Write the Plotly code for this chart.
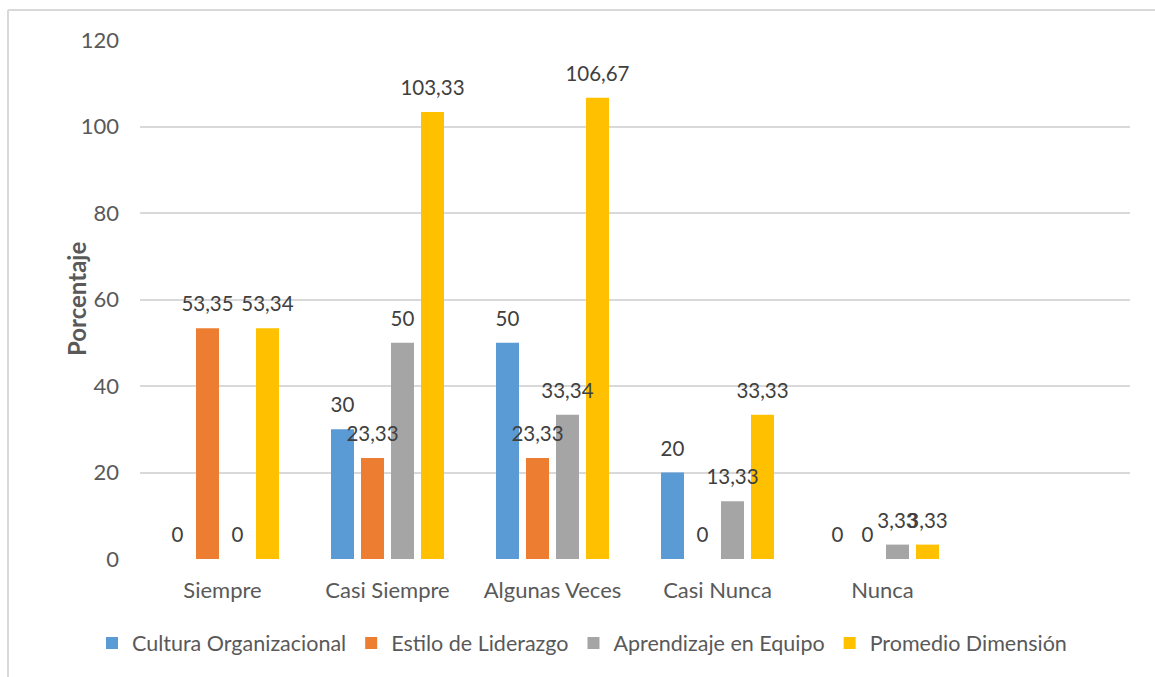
import plotly.graph_objects as go

categories = ["Siempre", "Casi Siempre", "Algunas Veces", "Casi Nunca", "Nunca"]
cultura = [0, 30, 50, 20, 0]
estilo = [53.35, 23.33, 23.33, 0, 0]
aprendizaje = [0, 50, 33.34, 13.33, 3.33]
promedio = [53.34, 103.33, 106.67, 33.33, 3.33]

series = [
    ("Cultura Organizacional", cultura, "#5B9BD5"),
    ("Estilo de Liderazgo", estilo, "#ED7D31"),
    ("Aprendizaje en Equipo", aprendizaje, "#A5A5A5"),
    ("Promedio Dimensión", promedio, "#FFC000"),
]

def fmt(v):
    return f"{v:g}".replace(".", ",")

W, H = 1155, 677
L, R, T, B = 140, 25, 40, 118
pw, ph = W - L - R, H - T - B

# bar geometry in category units (one category = 165 px)
BAR_W = 23 / 165
OFFSETS = [-56.5 / 165, -26.5 / 165, 3.5 / 165, 33.5 / 165]
LABEL_PAD = 2.3  # gap between bar top and its label, in axis units

fig = go.Figure()
for (name, vals, col), off in zip(series, OFFSETS):
    fig.add_trace(go.Bar(
        x=categories, y=vals, name=name,
        marker=dict(color=col, line=dict(width=0)),
        width=BAR_W, offset=off,
        hoverinfo="x+y+name",
    ))
# transparent label carriers drawn after all bars so labels sit on top
for (name, vals, col), off in zip(series, OFFSETS):
    fig.add_trace(go.Bar(
        x=categories, y=[LABEL_PAD] * len(vals), base=vals,
        marker=dict(color="rgba(0,0,0,0)", line=dict(width=0)),
        width=BAR_W, offset=off, showlegend=False, hoverinfo="skip",
        text=[fmt(v) for v in vals],
        textposition="outside",
        textfont=dict(family="Lato", size=20.5, color="#404040"),
        constraintext="none",
        cliponaxis=False,
    ))

def px_x(x):
    return (x - L) / pw

def px_y(y):
    return (H - B - y) / ph

fig.update_layout(
    width=W, height=H,
    margin=dict(l=L, r=R, t=T, b=B, autoexpand=False),
    paper_bgcolor="white", plot_bgcolor="white",
    font=dict(family="Lato", size=22, color="#595959"),
    barmode="overlay",
    showlegend=True,
    legend=dict(orientation="h", xref="container", yref="container",
                x=582 / W, xanchor="center", y=(H - 643) / H, yanchor="middle",
                font=dict(family="Lato", size=21.5, color="#595959"), itemwidth=30,
                traceorder="normal", tracegroupgap=0),
    xaxis=dict(type="category", range=[-0.5, 5.5], showgrid=False, showline=False,
               zeroline=False, ticks="", tickfont=dict(size=22, color="#595959"),
               ticklabelstandoff=16, automargin=False),
    yaxis=dict(range=[0, 120], dtick=20, showgrid=True, gridcolor="#D9D9D9", gridwidth=1.5,
               zeroline=False, showline=False, ticks="", automargin=False,
               tickfont=dict(size=22, color="#595959"), ticklabelstandoff=20),
    annotations=[dict(text="<b>Porcentaje</b>", x=px_x(60), y=0.5, xref="paper", yref="paper",
                      textangle=-90, showarrow=False,
                      font=dict(family="Lato", size=24, color="#595959"))],
    shapes=[
        dict(type="line", xref="paper", yref="paper", x0=px_x(8), x1=px_x(1160),
             y0=px_y(10), y1=px_y(10), line=dict(color="#D9D9D9", width=2)),
        dict(type="line", xref="paper", yref="paper", x0=px_x(8), x1=px_x(8),
             y0=px_y(10), y1=px_y(680), line=dict(color="#D9D9D9", width=2)),
    ],
)

fig.write_html("out.html")
